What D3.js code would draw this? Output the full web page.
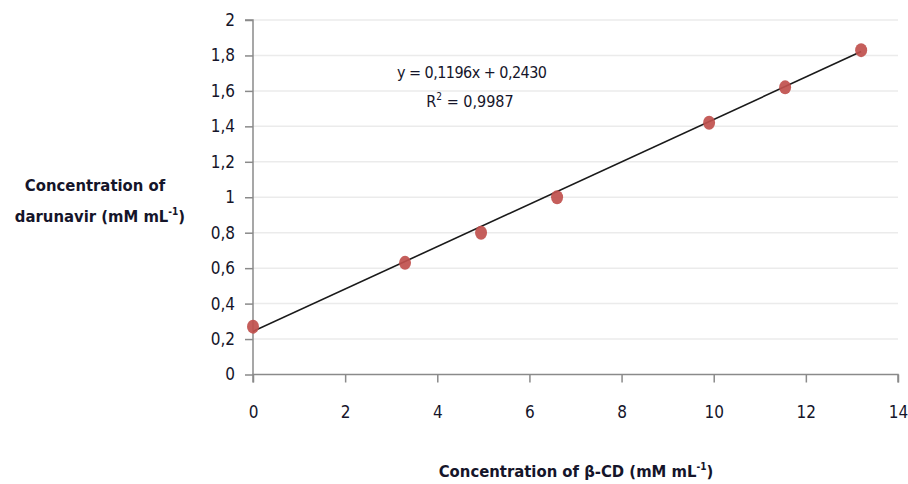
<html>
<head>
<style>
  body { margin: 0; background: #fff; }
  svg text { font-family: "DejaVu Sans Condensed", "Open Sans", sans-serif; fill: #15152a; }
  .tick text { font-size: 17px; }
  .grid line { stroke: #ebebeb; stroke-width: 1.5; }
  .axis path, .axis line { stroke: #8a8a8a; stroke-width: 1.5; }
  .title { font-size: 16.5px; font-weight: bold; }
  .eq { font-size: 16px; }
</style>
</head>
<body>
<svg width="908" height="484"></svg>
<script src="https://cdnjs.cloudflare.com/ajax/libs/d3/7.8.5/d3.min.js"></script>
<script>
// data
var cdConc = [0, 3.3, 4.95, 6.6, 9.9, 11.55, 13.2];
var drvConc = [0.27, 0.63, 0.80, 1.00, 1.42, 1.62, 1.83];
var slope = 0.1196, intercept = 0.2430, r2 = "0,9987";
var xTicks = [0, 2, 4, 6, 8, 10, 12, 14];
var yTicks = [0, 0.2, 0.4, 0.6, 0.8, 1, 1.2, 1.4, 1.6, 1.8, 2];

var svg = d3.select('svg');
var x = d3.scaleLinear().domain([0, 14]).range([253, 898]);
var y = d3.scaleLinear().domain([0, 2]).range([374.5, 20]);
var comma = function(v) { return String(+v.toFixed(1)).replace('.', ','); };

// gridlines
svg.append('g').attr('class', 'grid')
  .selectAll('line').data(yTicks.slice(1)).enter().append('line')
  .attr('x1', x(0)).attr('x2', x(14))
  .attr('y1', function(d) { return y(d); }).attr('y2', function(d) { return y(d); });

var yAxis = d3.axisLeft(y).tickValues(yTicks).tickSize(8).tickPadding(10).tickFormat(comma);
var xAxis = d3.axisBottom(x).tickValues(xTicks).tickSize(8).tickPadding(23).tickFormat(comma);

var ya = svg.append('g').attr('class', 'axis').attr('transform', 'translate(' + x(0) + ',0)').call(yAxis);
var xa = svg.append('g').attr('class', 'axis').attr('transform', 'translate(0,' + y(0) + ')').call(xAxis);
ya.select('.domain').attr('d', 'M-8,' + y(2) + 'H0V' + y(0));
xa.select('.domain').attr('d', 'M' + x(0) + ',8V0H' + x(14) + 'V8');

// trend line
var tx = [0, d3.max(cdConc)];
svg.append('line')
  .attr('x1', x(tx[0])).attr('y1', y(slope * tx[0] + intercept))
  .attr('x2', x(tx[1])).attr('y2', y(slope * tx[1] + intercept))
  .attr('stroke', '#1a1a1a').attr('stroke-width', 1.6);

// points
svg.append('g').selectAll('ellipse').data(cdConc).enter().append('ellipse')
  .attr('cx', function(d) { return x(d); })
  .attr('cy', function(d, i) { return y(drvConc[i]); })
  .attr('rx', 6).attr('ry', 7)
  .attr('fill', '#c0504d').attr('opacity', 0.92);

// equation
svg.append('text').attr('class', 'eq').attr('x', 472).attr('y', 78).attr('text-anchor', 'middle')
  .attr('textLength', 150)
  .text('y = ' + String(slope).replace('.', ',') + 'x + ' + intercept.toFixed(4).replace('.', ','));
var rt = svg.append('text').attr('class', 'eq').attr('x', 470).attr('y', 107).attr('text-anchor', 'middle');
rt.append('tspan').text('R');
rt.append('tspan').attr('dy', -7).attr('font-size', 10).text('2');
rt.append('tspan').attr('dy', 7).text(' = ' + r2);

// axis titles
svg.append('text').attr('class', 'title').attr('x', 95).attr('y', 191).attr('text-anchor', 'middle').text('Concentration of');
var t2 = svg.append('text').attr('class', 'title').attr('x', 100).attr('y', 222).attr('text-anchor', 'middle');
t2.append('tspan').text('darunavir  (mM mL');
t2.append('tspan').attr('dy', -7).attr('font-size', 10).text('-1');
t2.append('tspan').attr('dy', 7).text(')');

var t3 = svg.append('text').attr('class', 'title').attr('x', 576).attr('y', 477).attr('text-anchor', 'middle');
t3.append('tspan').text('Concentration of β-CD  (mM mL');
t3.append('tspan').attr('dy', -7).attr('font-size', 10).text('-1');
t3.append('tspan').attr('dy', 7).text(')');
</script>
</body>
</html>
